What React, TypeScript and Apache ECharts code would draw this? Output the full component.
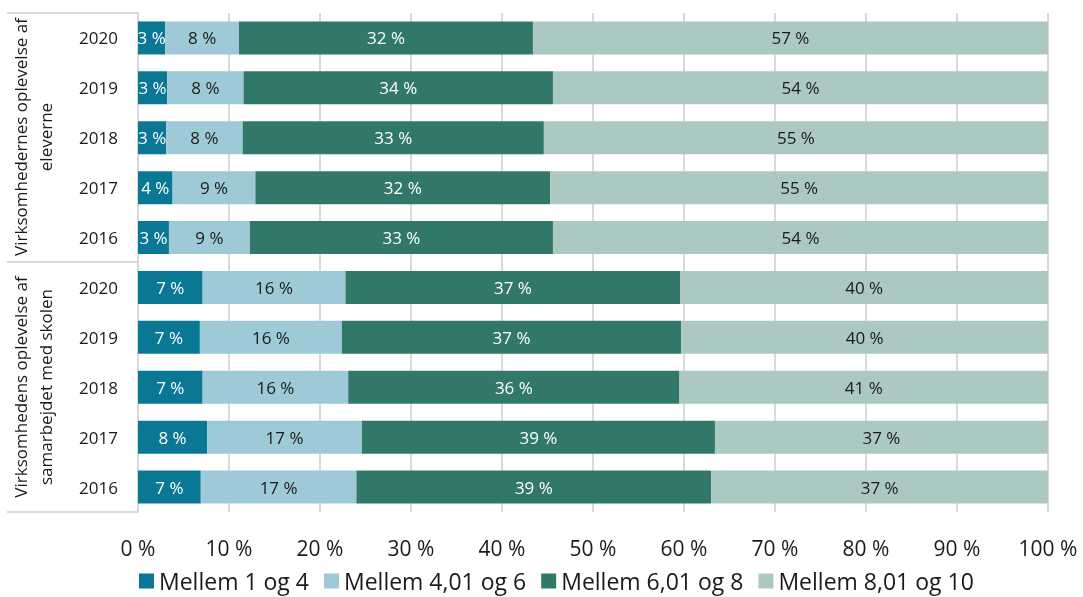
import React, { useEffect, useRef } from "react";
import * as echarts from "echarts";

const groupNames = [
  "Virksomhedernes oplevelse af\neleverne",
  "Virksomhedens oplevelse af\nsamarbejdet med skolen",
];
const years = ["2020", "2019", "2018", "2017", "2016"];
const seriesNames = ["Mellem 1 og 4", "Mellem 4,01 og 6", "Mellem 6,01 og 8", "Mellem 8,01 og 10"];
const colors = ["#0A7894", "#9DCAD6", "#32786A", "#ABC8C2"];
const labelColors = ["#ffffff", "#1a1a1a", "#ffffff", "#1a1a1a"];

// top to bottom: group 1 (2020..2016), group 2 (2020..2016)
const s1 = [3.0, 3.2, 3.1, 3.8, 3.4, 7.1, 6.8, 7.1, 7.6, 6.9];
const s2 = [8.1, 8.4, 8.4, 9.1, 8.9, 15.7, 15.6, 16.0, 17.0, 17.1];
const s3 = [32.3, 34.0, 33.1, 32.4, 33.3, 36.8, 37.3, 36.4, 38.8, 39.0];
const s4 = [56.6, 54.4, 55.4, 54.7, 54.4, 40.4, 40.3, 40.5, 36.6, 37.0];
const xTicks = [0, 10, 20, 30, 40, 50, 60, 70, 80, 90, 100];

export default function App() {
  const ref = useRef<HTMLDivElement>(null);
  useEffect(() => {
    if (!ref.current) return;
    const chart = echarts.init(ref.current, null, { renderer: "svg" });
    const cats: string[] = [];
    groupNames.forEach((_, gi) => years.forEach((y) => cats.push(gi + "|" + y)));
    const data = [s1, s2, s3, s4];
    const font = "'Open Sans', 'Noto Sans', sans-serif";
    const lineStyle = { stroke: "#d9d9d9", lineWidth: 2 };
    chart.setOption({
      animation: false,
      textStyle: { fontFamily: font },
      grid: { left: 138, right: 35, top: 13, bottom: 85, containLabel: false },
      xAxis: {
        type: "value",
        min: xTicks[0],
        max: xTicks[xTicks.length - 1],
        interval: 10,
        axisLabel: { formatter: (v: number) => v + " %", fontSize: 21, color: "#1a1a1a", margin: 25, fontFamily: font },
        splitLine: { show: true, lineStyle: { color: "#d9d9d9", width: 2 } },
        axisLine: { show: false },
        axisTick: { show: false },
      },
      yAxis: {
        type: "category",
        inverse: true,
        data: cats,
        axisLabel: {
          formatter: (v: string) => v.split("|")[1],
          fontSize: 17,
          color: "#1a1a1a",
          margin: 20,
          fontFamily: font,
        },
        axisLine: { show: true, lineStyle: { color: "#d9d9d9", width: 2 } },
        axisTick: { show: false },
      },
      legend: {
        top: 569,
        left: 139,
        padding: 0,
        itemWidth: 15,
        itemHeight: 15,
        itemGap: 15,
        icon: "rect",
        textStyle: { fontSize: 23, color: "#1a1a1a", fontFamily: font, lineHeight: 24 },
        data: seriesNames,
      },
      series: seriesNames.map((name, i) => ({
        name,
        type: "bar",
        stack: "total",
        barWidth: 33,
        itemStyle: { color: colors[i] },
        label: {
          show: true,
          position: "inside",
          formatter: (p: any) => Math.round(p.value) + " %",
          color: labelColors[i],
          fontSize: 17,
          fontFamily: font,
        },
        data: data[i],
      })),
      graphic: [
        { type: "line", shape: { x1: 7, y1: 13, x2: 138, y2: 13 }, style: lineStyle },
        { type: "line", shape: { x1: 7, y1: 262, x2: 138, y2: 262 }, style: lineStyle },
        { type: "line", shape: { x1: 7, y1: 512, x2: 138, y2: 512 }, style: lineStyle },
        {
          type: "text",
          x: 33,
          y: 137,
          rotation: Math.PI / 2,
          style: {
            text: groupNames[0],
            fontSize: 17,
            lineHeight: 25,
            fill: "#1a1a1a",
            fontFamily: font,
            textAlign: "center",
            textVerticalAlign: "middle",
          },
        },
        {
          type: "text",
          x: 33,
          y: 387,
          rotation: Math.PI / 2,
          style: {
            text: groupNames[1],
            fontSize: 17,
            lineHeight: 25,
            fill: "#1a1a1a",
            fontFamily: font,
            textAlign: "center",
            textVerticalAlign: "middle",
          },
        },
      ],
    });
    return () => chart.dispose();
  }, []);
  return <div ref={ref} style={{ position: "fixed", left: 0, top: 0, width: 1083, height: 597 }} />;
}
